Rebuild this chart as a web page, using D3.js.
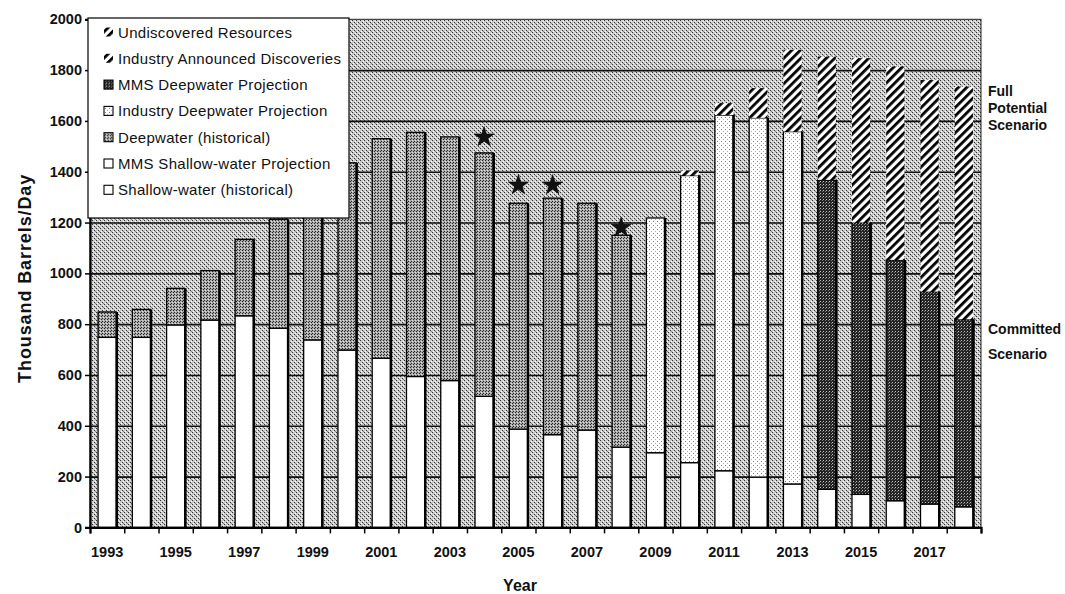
<!DOCTYPE html>
<html><head><meta charset="utf-8">
<script src="https://cdn.jsdelivr.net/npm/d3@7"></script>
<style>
html,body{margin:0;padding:0;background:#fff;overflow:hidden}
svg{display:block;font-family:"Liberation Sans",Arial,sans-serif}
</style></head><body>
<svg id="chart" width="1065" height="594"></svg>
<script>
// ---------- DATA ----------
const years = [1993,1994,1995,1996,1997,1998,1999,2000,2001,2002,2003,2004,2005,2006,2007,2008,2009,2010,2011,2012,2013,2014,2015,2016,2017,2018];
const shallowHistorical   = [748,748,797,816,833,784,738,698,666,594,578,516,387,365,383,316,0,0,0,0,0,0,0,0,0,0];
const deepwaterHistorical = [100,110,144,195,301,429,622,737,864,961,959,958,889,931,893,834,0,0,0,0,0,0,0,0,0,0];
const shallowProjection   = [0,0,0,0,0,0,0,0,0,0,0,0,0,0,0,0,294,255,223,198,171,150,130,105,92,81];
const industryDeepwater   = [0,0,0,0,0,0,0,0,0,0,0,0,0,0,0,0,924,1130,1400,1414,1387,0,0,0,0,0];
const mmsDeepwater        = [0,0,0,0,0,0,0,0,0,0,0,0,0,0,0,0,0,0,0,0,0,1218,1070,948,836,738];
const announcedDiscoveries= [0,0,0,0,0,0,0,0,0,0,0,0,0,0,0,0,0,20,47,117,322,0,0,0,0,0];
const undiscoveredResources=[0,0,0,0,0,0,0,0,0,0,0,0,0,0,0,0,0,0,0,0,0,485,647,761,833,916];
const starYears  = [2004,2005,2006,2008];
const starValues = [1536,1347,1347,1180];
const yTicks = [0,200,400,600,800,1000,1200,1400,1600,1800,2000];
const xLabelYears = [1993,1995,1997,1999,2001,2003,2005,2007,2009,2011,2013,2015,2017];
const legendLabels = ["Undiscovered Resources","Industry Announced Discoveries","MMS Deepwater Projection","Industry Deepwater Projection","Deepwater (historical)","MMS Shallow-water Projection","Shallow-water (historical)"];
const legendKeys = ["undiscovered","announced","mmsDeep","industryDeep","deepHist","shallowProj","shallowHist"];
const scenarioLabels = [["Full","Potential","Scenario"],["Committed","Scenario"]];
const scenarioValues = [1700, 761];

// ---------- SETUP ----------
const svg = d3.select("#chart");
const L = 90, R = 981, T = 19.3, B = 527.4;
const x = d3.scaleBand().domain(years).range([L, R]).paddingInner(0.47).paddingOuter(0.235);
const xl = d3.scaleLinear().domain([0, years.length]).range([L, R]);
const y = d3.scaleLinear().domain([0, 2000]).range([B, T]);

const rows = years.map((yr, i) => ({
  year: yr,
  shallowHist: shallowHistorical[i], shallowProj: shallowProjection[i],
  deepHist: deepwaterHistorical[i], industryDeep: industryDeepwater[i],
  mmsDeep: mmsDeepwater[i], announced: announcedDiscoveries[i], undiscovered: undiscoveredResources[i]
}));
const keys = ["shallowHist","shallowProj","deepHist","industryDeep","mmsDeep","announced","undiscovered"];
const stack = d3.stack().keys(keys)(rows);

// patterns
const defs = svg.append("defs");
function dotPattern(id, size, bg, dots) {
  const p = defs.append("pattern").attr("id", id).attr("patternUnits", "userSpaceOnUse")
    .attr("width", size).attr("height", size);
  p.append("rect").attr("width", size).attr("height", size).attr("fill", bg);
  dots.forEach(d => p.append("rect").attr("x", d[0]).attr("y", d[1]).attr("width", 1).attr("height", 1).attr("fill", d[2]));
}
dotPattern("bgP", 4, "#cbcbcb", [[0,0,"#333"],[2,2,"#333"],[1,3,"#fff"],[3,1,"#fff"],[3,3,"#888"]]);
dotPattern("deepP", 3, "#a8a8a8", [[0,0,"#2a2a2a"],[2,1,"#2a2a2a"],[1,2,"#e0e0e0"]]);
dotPattern("indP", 4, "#ffffff", [[1,1,"#777"],[3,3,"#aaa"]]);
dotPattern("mmsP", 3, "#242424", [[1,1,"#c0c0c0"],[0,2,"#777"]]);
const hp = defs.append("pattern").attr("id", "hatchP").attr("patternUnits", "userSpaceOnUse")
  .attr("width", 6).attr("height", 6).attr("patternTransform", "rotate(45)");
hp.append("rect").attr("width", 6).attr("height", 6).attr("fill", "#fff");
hp.append("rect").attr("width", 2.8).attr("height", 6).attr("fill", "#000");

const fills = {shallowHist:"#fff", shallowProj:"#fff", deepHist:"url(#deepP)", industryDeep:"url(#indP)",
  mmsDeep:"url(#mmsP)", announced:"url(#hatchP)", undiscovered:"url(#hatchP)"};
const hatched = {announced:true, undiscovered:true};

// plot background
svg.append("rect").attr("x", L).attr("y", T).attr("width", R - L).attr("height", B - T)
  .attr("fill", "url(#bgP)").attr("stroke", "#222").attr("stroke-width", 1);

// gridlines
const grid = svg.append("g").attr("transform", `translate(${L},0)`)
  .call(d3.axisLeft(y).tickValues(yTicks.filter(v => v > 0 && v < 2000)).tickSize(-(R - L)).tickFormat(""));
grid.select(".domain").remove();
grid.selectAll("line").attr("stroke", "#111").attr("stroke-width", 1.6);

// bars
const bw = x.bandwidth();
stack.forEach(layer => {
  const k = layer.key;
  svg.append("g").selectAll("rect").data(layer.filter(d => d[1] - d[0] > 0)).join("rect")
    .attr("x", d => x(d.data.year))
    .attr("y", d => y(d[1]))
    .attr("width", bw)
    .attr("height", d => y(d[0]) - y(d[1]))
    .attr("fill", fills[k])
    .attr("stroke", hatched[k] ? "none" : "#000")
    .attr("stroke-width", 1.3);
});
// heavier right edge (shadow) of outlined parts
svg.append("g").selectAll("line").data(rows).join("line")
  .attr("x1", d => x(d.year) + bw + 0.6).attr("x2", d => x(d.year) + bw + 0.6)
  .attr("y1", y(0))
  .attr("y2", d => y(d.shallowHist + d.shallowProj + d.deepHist + d.industryDeep + d.mmsDeep))
  .attr("stroke", "#000").attr("stroke-width", 2.4);

// stars
svg.append("g").selectAll("path").data(starYears.map((yr, i) => ({yr, v: starValues[i]}))).join("path")
  .attr("d", d3.symbol(d3.symbolStar).size(125))
  .attr("transform", d => `translate(${x(d.yr) + bw / 2},${y(d.v)})`)
  .attr("fill", "#111").attr("stroke", "#000").attr("stroke-width", 0.6);

// y axis
const ya = svg.append("g").attr("transform", `translate(${L},0)`)
  .call(d3.axisLeft(y).tickValues(yTicks).tickSize(5).tickPadding(3).tickFormat(d3.format("d")));
ya.select(".domain").attr("stroke", "#000").attr("stroke-width", 2.2);
ya.selectAll("line").attr("stroke", "#000").attr("stroke-width", 1.5);
ya.selectAll("text").attr("font-size", 14.5).attr("font-weight", "bold").attr("fill", "#111")
  .attr("font-family", "Liberation Sans, Arial, sans-serif");

// x axis: boundary ticks
const xa = svg.append("g").attr("transform", `translate(0,${B})`)
  .call(d3.axisBottom(xl).tickValues(d3.range(0, years.length + 1)).tickSize(6).tickFormat(""));
xa.select(".domain").attr("stroke", "#000").attr("stroke-width", 2.2);
xa.selectAll("line").attr("stroke", "#000").attr("stroke-width", 1.5);
// x labels
const xb = svg.append("g").attr("transform", `translate(0,${B})`)
  .call(d3.axisBottom(x).tickValues(xLabelYears).tickSize(0).tickPadding(19));
xb.select(".domain").remove();
xb.selectAll("text").attr("font-size", 14.5).attr("font-weight", "bold").attr("fill", "#111")
  .attr("font-family", "Liberation Sans, Arial, sans-serif");

// axis titles
svg.append("text").attr("transform", `translate(31,${(T + B) / 2 + 5}) rotate(-90)`)
  .attr("text-anchor", "middle").attr("font-size", 18).attr("font-weight", "bold")
  .attr("letter-spacing", 0.9).attr("fill", "#111").text("Thousand Barrels/Day");
svg.append("text").attr("x", 520).attr("y", 591).attr("text-anchor", "middle")
  .attr("font-size", 16).attr("font-weight", "bold").attr("fill", "#111").text("Year");

// scenario labels (kept inside the page)
scenarioLabels.forEach((lines, i) => {
  const yc = y(scenarioValues[i]);
  const step = lines.length > 2 ? 17 : 25;
  lines.forEach((t, j) => {
    svg.append("text").attr("x", 988).attr("y", yc + j * step)
      .attr("font-size", 14).attr("font-weight", "bold")
      .attr("fill", "#111").text(t);
  });
});

// legend
const lg = svg.append("g");
lg.append("rect").attr("x", 88).attr("y", 18).attr("width", 261).attr("height", 200)
  .attr("fill", "#fff").attr("stroke", "#000").attr("stroke-width", 1.2);
const li = lg.selectAll("g.item").data(legendLabels).join("g").attr("class", "item")
  .attr("transform", (d, i) => `translate(0,${32 + i * 26.3})`);
li.append("rect").attr("x", 104).attr("y", -4.5).attr("width", 9).attr("height", 9)
  .attr("fill", (d, i) => fills[legendKeys[i]])
  .attr("stroke", (d, i) => hatched[legendKeys[i]] ? "none" : "#000").attr("stroke-width", 1.1);
li.append("text").attr("x", 118).attr("y", 5.5).attr("font-size", 15).attr("letter-spacing", 0.3)
  .attr("fill", "#111").text(d => d);
</script>
</body></html>
